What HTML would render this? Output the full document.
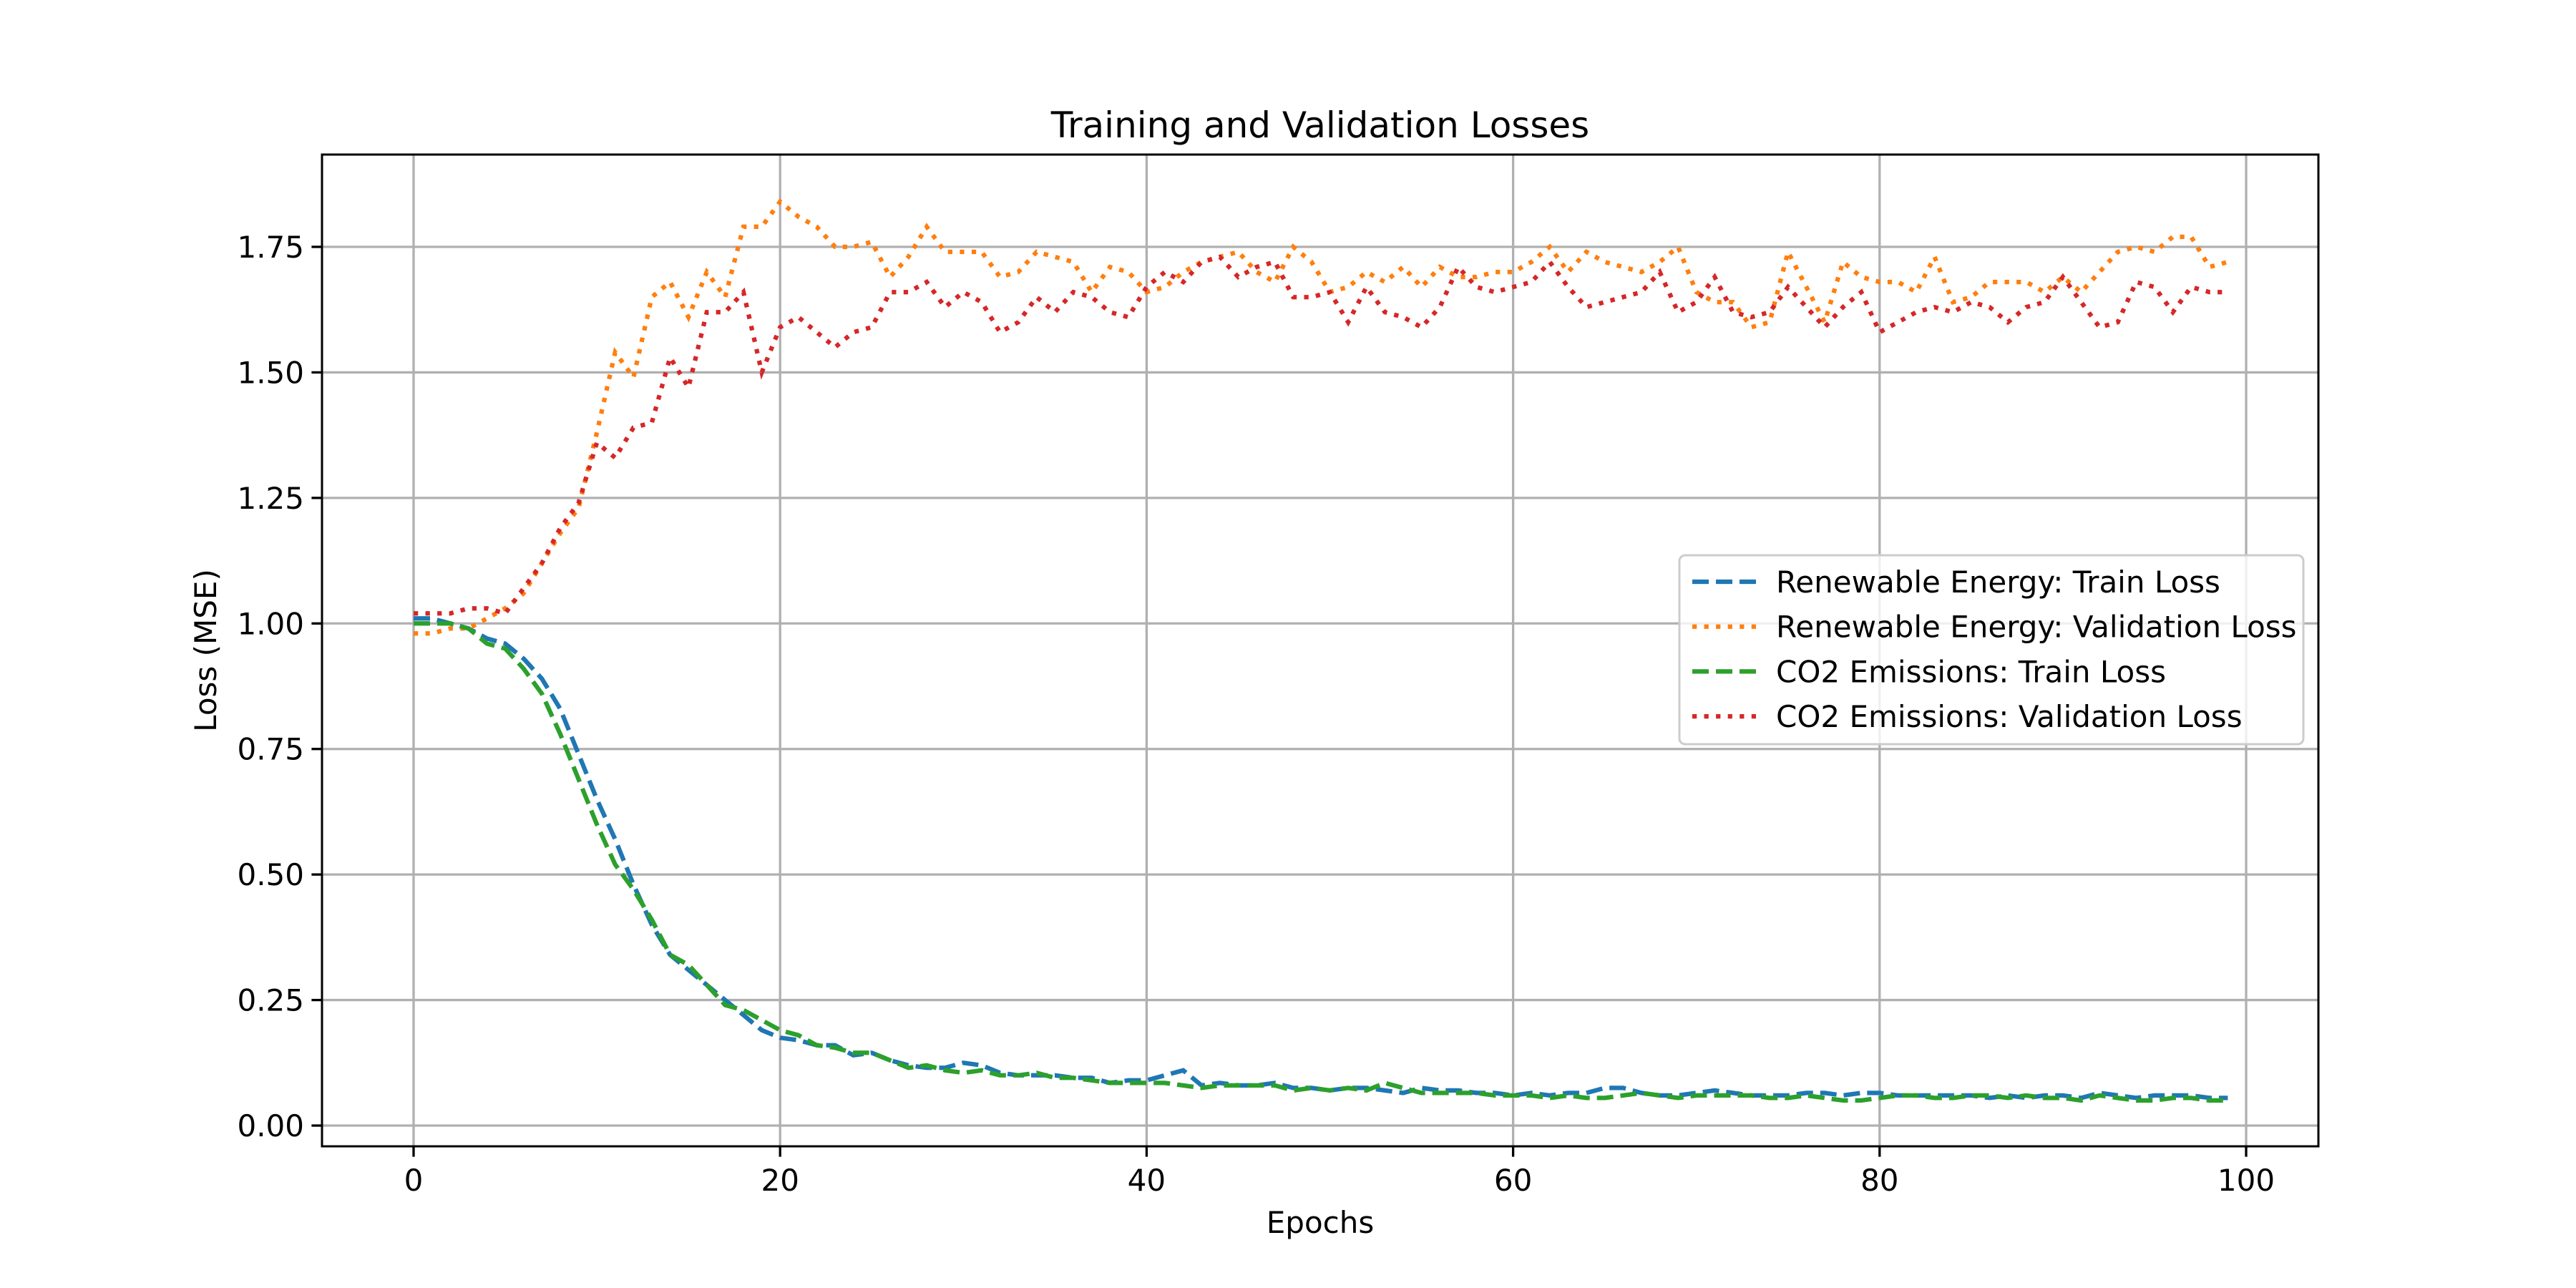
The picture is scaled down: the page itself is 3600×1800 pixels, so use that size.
<!DOCTYPE html>
<html><head><meta charset="utf-8"><style>
html,body{margin:0;padding:0;background:#fff}
svg{display:block;font-family:"DejaVu Sans","Liberation Sans",sans-serif}
</style></head><body>
<svg id="chart" width="3600" height="1800" viewBox="0 0 3600 1800" xmlns="http://www.w3.org/2000/svg">
<rect width="3600" height="1800" fill="#fff"/>
<g id="grid"></g>
<g id="series"></g>
<rect x="450" y="216" width="2790" height="1386" fill="none" stroke="#000" stroke-width="3"/>
<g id="ticks"></g>
<text x="1845" y="192" font-size="50" text-anchor="middle">Training and Validation Losses</text>
<text x="1845" y="1723" font-size="42" text-anchor="middle">Epochs</text>
<text x="302" y="909" font-size="42" text-anchor="middle" transform="rotate(-90 302 909)">Loss (MSE)</text>
<g id="legend"></g>
</svg>
<script>
const epochs = Array.from({length:100},(_,i)=>i);
const reTrain = [1.01,1.01,1.00,0.99,0.97,0.96,0.93,0.89,0.83,0.74,0.65,0.57,0.48,0.40,0.34,0.31,0.28,0.25,0.22,0.19,0.175,0.17,0.16,0.16,0.14,0.145,0.13,0.12,0.115,0.115,0.125,0.12,0.105,0.10,0.10,0.10,0.095,0.095,0.085,0.09,0.09,0.10,0.11,0.08,0.085,0.08,0.08,0.085,0.075,0.075,0.07,0.075,0.075,0.07,0.065,0.075,0.07,0.07,0.065,0.065,0.06,0.065,0.06,0.065,0.065,0.075,0.075,0.065,0.06,0.06,0.065,0.07,0.065,0.06,0.06,0.06,0.065,0.065,0.06,0.065,0.065,0.06,0.06,0.06,0.06,0.06,0.055,0.06,0.055,0.06,0.06,0.055,0.065,0.06,0.055,0.06,0.06,0.06,0.055,0.055];
const reVal = [0.98,0.98,0.99,0.99,1.01,1.03,1.06,1.12,1.18,1.23,1.38,1.54,1.49,1.65,1.68,1.61,1.70,1.65,1.79,1.79,1.84,1.81,1.79,1.75,1.75,1.76,1.69,1.73,1.79,1.74,1.74,1.74,1.69,1.70,1.74,1.73,1.72,1.66,1.71,1.70,1.66,1.67,1.70,1.72,1.73,1.74,1.70,1.68,1.75,1.72,1.66,1.67,1.70,1.68,1.71,1.67,1.71,1.69,1.69,1.70,1.70,1.72,1.75,1.70,1.74,1.72,1.71,1.70,1.72,1.75,1.66,1.64,1.64,1.59,1.60,1.74,1.67,1.60,1.72,1.69,1.68,1.68,1.66,1.73,1.64,1.65,1.68,1.68,1.68,1.66,1.69,1.66,1.70,1.74,1.75,1.74,1.77,1.77,1.71,1.72];
const co2Train = [1.00,1.00,1.00,0.99,0.96,0.95,0.91,0.86,0.78,0.69,0.60,0.52,0.47,0.41,0.34,0.32,0.28,0.24,0.23,0.21,0.19,0.18,0.16,0.155,0.145,0.145,0.13,0.115,0.12,0.11,0.105,0.11,0.10,0.10,0.105,0.095,0.095,0.09,0.085,0.085,0.085,0.085,0.08,0.075,0.08,0.08,0.08,0.08,0.07,0.075,0.07,0.075,0.07,0.085,0.075,0.065,0.065,0.065,0.065,0.06,0.06,0.06,0.055,0.06,0.055,0.055,0.06,0.065,0.06,0.055,0.06,0.06,0.06,0.06,0.055,0.055,0.06,0.055,0.05,0.05,0.055,0.06,0.06,0.055,0.055,0.06,0.06,0.055,0.06,0.055,0.055,0.05,0.06,0.055,0.05,0.05,0.055,0.055,0.05,0.05];
const co2Val = [1.02,1.02,1.02,1.03,1.03,1.02,1.07,1.12,1.19,1.24,1.36,1.33,1.39,1.40,1.53,1.47,1.62,1.62,1.66,1.50,1.59,1.61,1.58,1.55,1.58,1.59,1.66,1.66,1.68,1.63,1.66,1.64,1.58,1.60,1.65,1.62,1.66,1.65,1.62,1.61,1.67,1.70,1.68,1.72,1.73,1.69,1.71,1.72,1.65,1.65,1.66,1.60,1.67,1.62,1.61,1.59,1.63,1.71,1.67,1.66,1.67,1.68,1.72,1.67,1.63,1.64,1.65,1.66,1.70,1.62,1.64,1.69,1.62,1.61,1.62,1.67,1.63,1.59,1.63,1.66,1.58,1.60,1.62,1.63,1.62,1.64,1.63,1.60,1.63,1.64,1.69,1.64,1.59,1.60,1.68,1.67,1.62,1.67,1.66,1.66];
const xTicks = [0,20,40,60,80,100];
const yTicks = [0,0.25,0.5,0.75,1.0,1.25,1.5,1.75];
const yTickLabels = ["0.00","0.25","0.50","0.75","1.00","1.25","1.50","1.75"];
const legendLabels = ["Renewable Energy: Train Loss","Renewable Energy: Validation Loss","CO2 Emissions: Train Loss","CO2 Emissions: Validation Loss"];

const NS="http://www.w3.org/2000/svg";
const X0=450,X1=3240,Y0=216,Y1=1602;
const xs=v=>578+(v/100)*(3139-578);
const ys=v=>1573-(v/1.75)*(1573-345);
function mk(tag,attrs,parent){const e=document.createElementNS(NS,tag);for(const k in attrs)e.setAttribute(k,attrs[k]);parent.appendChild(e);return e;}
const grid=document.getElementById('grid'),ticks=document.getElementById('ticks'),ser=document.getElementById('series'),leg=document.getElementById('legend');
xTicks.forEach(t=>{const x=xs(t);
 const g=mk('line',{x1:x,x2:x,y1:Y0,y2:Y1,stroke:'#b0b0b0','stroke-width':3.3},grid);
 
 
 const tk=mk('line',{x1:x,x2:x,y1:Y1,y2:Y1+14.6,stroke:'#000','stroke-width':3.3},ticks);
 
 
 const tx=mk('text',{x:x,y:Y1+62,'font-size':42,'text-anchor':'middle'},ticks);tx.textContent=String(t);
 
 
});
yTicks.forEach((t,i)=>{const y=ys(t);
 const g=mk('line',{x1:X0,x2:X1,y1:y,y2:y,stroke:'#b0b0b0','stroke-width':3.3},grid);
 
 
 const tk=mk('line',{x1:X0-14.6,x2:X0,y1:y,y2:y,stroke:'#000','stroke-width':3.3},ticks);
 
 
 const tx=mk('text',{x:X0-25,y:y+15,'font-size':42,'text-anchor':'end'},ticks);tx.textContent=yTickLabels[i];
 
 
});
const styles=[{c:'#1f77b4',d:'23,10'},{c:'#ff7f0e',d:'6.25,10.3'},{c:'#2ca02c',d:'23,10'},{c:'#d62728',d:'6.25,10.3'}];
const names=['re-train-line','re-val-line','co2-train-line','co2-val-line'];
[reTrain,reVal,co2Train,co2Val].forEach((s,i)=>{
 const d=s.map((v,j)=>(j?'L':'M')+xs(epochs[j]).toFixed(1)+','+ys(v).toFixed(1)).join('');
 const p=mk('path',{d:d,fill:'none',stroke:styles[i].c,'stroke-width':6.25,'stroke-dasharray':styles[i].d},ser);
 
 
});
const box=mk('rect',{x:2347,y:776,width:872,height:264,rx:8,fill:'#fff','fill-opacity':0.8,stroke:'#ccc','stroke-width':3},leg);


legendLabels.forEach((l,i)=>{const y=813+i*62.7;
 const ln=mk('line',{x1:2365,x2:2457,y1:y,y2:y,stroke:styles[i].c,'stroke-width':6.25,'stroke-dasharray':styles[i].d},leg);
 
 
 const tx=mk('text',{x:2482,y:y+15,'font-size':42},leg);tx.textContent=l;
 
 
});
</script>
</body></html>
